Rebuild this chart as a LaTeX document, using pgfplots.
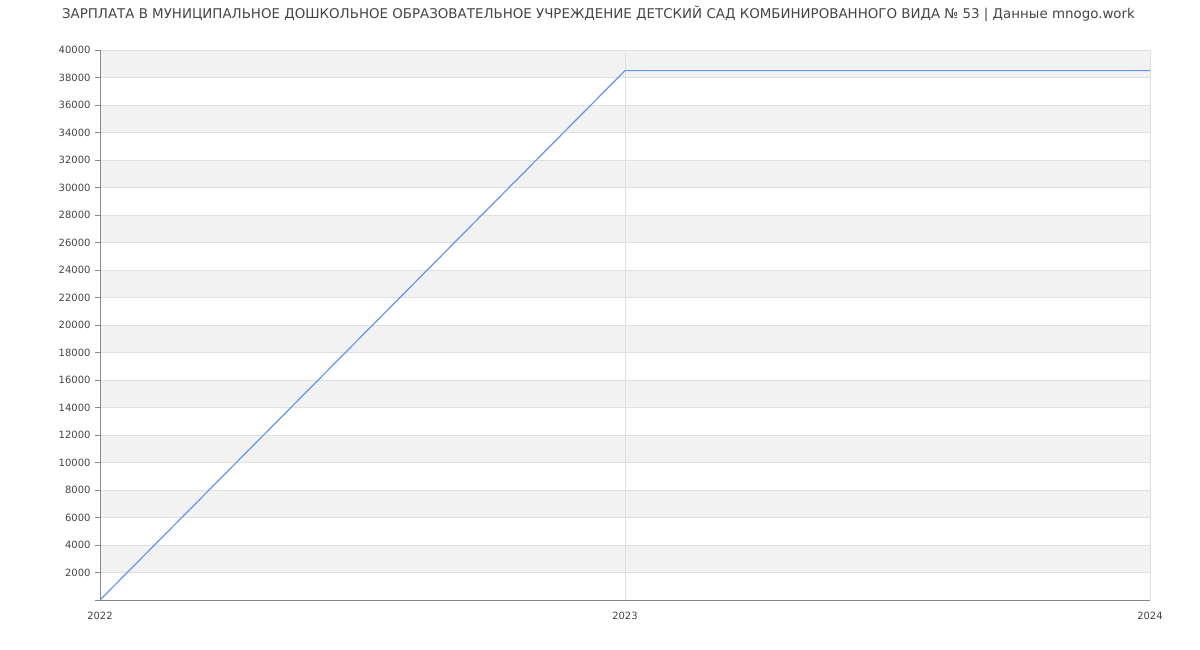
\documentclass[border=0pt]{standalone}
\usepackage{pgfplots}
\pgfplotsset{compat=1.18}
\usepackage{fontspec}
\setmainfont{DejaVu Sans}
\definecolor{band}{HTML}{F2F2F2}
\definecolor{gridc}{HTML}{E0E0E0}
\definecolor{axc}{HTML}{888888}
\definecolor{linec}{HTML}{6495ED}
\definecolor{txt}{HTML}{444444}
\pgfplotsset{base/.style={
  at={(100bp,50bp)}, anchor=south west,
  scale only axis, width=1050bp, height=550bp,
  xmin=2022, xmax=2024, ymin=0, ymax=40000}}
\begin{document}
\begin{tikzpicture}
\path[use as bounding box] (0,0) rectangle (1200bp,650bp);
\node[anchor=center, text=txt, font=\fontsize{13.4bp}{16bp}\selectfont] at (598.5bp,636bp) {ЗАРПЛАТА В МУНИЦИПАЛЬНОЕ ДОШКОЛЬНОЕ ОБРАЗОВАТЕЛЬНОЕ УЧРЕЖДЕНИЕ ДЕТСКИЙ САД КОМБИНИРОВАННОГО ВИДА № 53 | Данные mnogo.work};
\begin{axis}[base, hide axis]
\addplot[fill=band, draw=none] coordinates {(2022,2000)(2024,2000)(2024,4000)(2022,4000)};
\addplot[fill=band, draw=none] coordinates {(2022,6000)(2024,6000)(2024,8000)(2022,8000)};
\addplot[fill=band, draw=none] coordinates {(2022,10000)(2024,10000)(2024,12000)(2022,12000)};
\addplot[fill=band, draw=none] coordinates {(2022,14000)(2024,14000)(2024,16000)(2022,16000)};
\addplot[fill=band, draw=none] coordinates {(2022,18000)(2024,18000)(2024,20000)(2022,20000)};
\addplot[fill=band, draw=none] coordinates {(2022,22000)(2024,22000)(2024,24000)(2022,24000)};
\addplot[fill=band, draw=none] coordinates {(2022,26000)(2024,26000)(2024,28000)(2022,28000)};
\addplot[fill=band, draw=none] coordinates {(2022,30000)(2024,30000)(2024,32000)(2022,32000)};
\addplot[fill=band, draw=none] coordinates {(2022,34000)(2024,34000)(2024,36000)(2022,36000)};
\addplot[fill=band, draw=none] coordinates {(2022,38000)(2024,38000)(2024,40000)(2022,40000)};
\end{axis}
\begin{axis}[base,
  scaled y ticks=false, scaled x ticks=false,
  xtick={2022,2023,2024},
  ytick={0,2000,4000,6000,8000,10000,12000,14000,16000,18000,20000,22000,24000,26000,28000,30000,32000,34000,36000,38000,40000},
  yticklabels={,2000,4000,6000,8000,10000,12000,14000,16000,18000,20000,22000,24000,26000,28000,30000,32000,34000,36000,38000,40000},
  xticklabels={2022,2023,2024},
  ticklabel style={font=\fontsize{10bp}{12bp}\selectfont, text=txt},
  xticklabel style={yshift=-4bp},
  yticklabel style={xshift=-1bp},
  axis x line*=bottom, axis y line*=left,
  axis line style={draw=axc, line width=0.8bp, -},
  xmajorgrids, ymajorgrids,
  grid style={draw=gridc, line width=0.8bp},
  ytick style={draw=axc, line width=0.8bp},
  xtick style={draw=none},
  major tick length=5bp,
  tick align=outside,
]
\addplot[linec, line width=1.2bp] coordinates {(2022,0) (2023,38500) (2024,38500)};
\end{axis}
\end{tikzpicture}
\end{document}
